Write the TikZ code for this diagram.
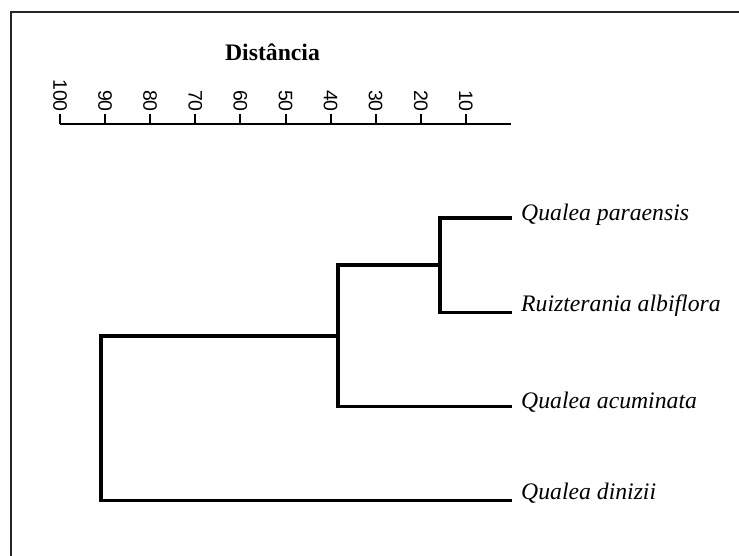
\documentclass[tikz,border=0pt]{standalone}
\usepackage{fontspec}
\setmainfont{Liberation Serif}
\newfontfamily\axisfont{Liberation Sans}
\begin{document}
\begin{tikzpicture}[x=1pt,y=-1pt,
  frameline/.style={line width=2.6pt, draw=black!85},
  branch/.style={line width=3.8pt, line join=miter},
  axisline/.style={line width=2pt},
  tickline/.style={line width=2pt},
  ticklabel/.style={rotate=-90, anchor=east, inner sep=0pt,
    font=\axisfont\fontsize{19.5}{22}\selectfont},
  taxon/.style={anchor=base west, inner sep=0pt,
    font=\itshape\fontsize{23.7}{28}\selectfont},
  axistitle/.style={anchor=base, inner sep=0pt,
    font=\bfseries\fontsize{23.7}{28}\selectfont}]
\useasboundingbox (0,0) rectangle (739,556);

% outer frame (left and top edges)
\draw[frameline] (11,560) -- (11,12) -- (743,12);

% distance scale
\node[axistitle] (title) at (272.5,61) {Distância};
\coordinate (axL) at (60,124.3);
\coordinate (axR) at (510.7,124.3);
\draw[axisline] (axL) -- (axR);
\foreach \i in {0,...,9}{
  \pgfmathsetmacro{\tx}{60+45.1*\i}
  \pgfmathtruncatemacro{\val}{100-10*\i}
  \coordinate (tk\i) at (\tx,124.3);
  \coordinate (tt\i) at (\tx,114);
  \draw[tickline] (tk\i) -- (tt\i);
  \node[ticklabel] (lab\i) at (\tx,112) {\val};
}

% leaf ends
\coordinate (e1) at (512,218);
\coordinate (e2) at (512,312.5);
\coordinate (e3) at (512,406.5);
\coordinate (e4) at (512,500.5);

% cluster joints
\coordinate (c1) at (440,265.25);
\coordinate (c2) at (338,335.9);
\coordinate (c3) at (101,418.2);

% dendrogram branches
\draw[branch] (e1) -| (c1) |- (e2);
\draw[branch] (c1) -| (c2) |- (e3);
\draw[branch] (c2) -| (c3) |- (e4);

% taxa
\node[taxon] (t1) at (521,220.5) {Qualea paraensis};
\node[taxon] (t2) at (521,311.5) {Ruizterania albiflora};
\node[taxon] (t3) at (521,408) {Qualea acuminata};
\node[taxon] (t4) at (521,499.5) {Qualea dinizii};
\end{tikzpicture}
\end{document}
